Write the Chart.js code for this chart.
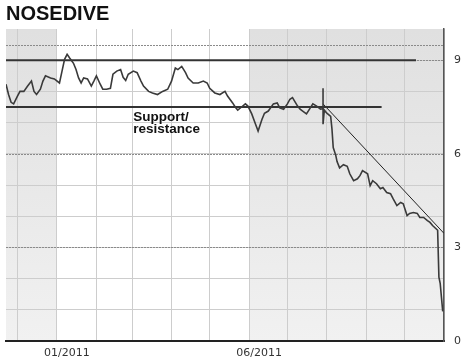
<!DOCTYPE html>
<html>
<head>
<meta charset="utf-8">
<script src="https://cdn.jsdelivr.net/npm/chart.js@4.4.0/dist/chart.umd.min.js"></script>
<style>
  html, body { margin: 0; padding: 0; background: #fff; }
  #wrap { width: 470px; height: 363px; }
</style>
</head>
<body>
<div id="wrap"><canvas id="nosediveChart"></canvas></div>
<script>
// x values are days counted from 01/01/2011
const priceDays = [
  -40, -38, -36, -34, -31, -29, -26, -23, -20, -18, -16, -13, -11, -9, -5, -2,
  2, 4, 6, 8, 10, 13, 15, 17, 19, 21, 24, 27, 29, 31, 34, 36,
  39, 42, 44, 47, 50, 52, 54, 56, 60, 63, 66, 68, 72, 75, 79, 83,
  87, 90, 93, 95, 98, 101, 103, 107, 111, 115, 118, 120, 124, 128, 132, 134,
  138, 140, 142, 145, 148, 150, 153, 156, 158, 161, 163, 166, 170, 173, 175, 178,
  181, 183, 185, 189, 191, 193, 196, 199, 201, 204, 207, 209, 209, 209, 210, 212,
  215, 216, 217, 219, 220, 222, 225, 228, 230, 233, 236, 238, 240, 244, 246, 248,
  251, 254, 256, 259, 262, 264, 267, 270, 272, 275, 277, 280, 283, 285, 288, 291,
  293, 295, 299, 300, 301, 302, 303
];
const priceValues = [
  8.23, 7.9, 7.65, 7.6, 7.85, 8.0, 8.0, 8.17, 8.33, 8.0, 7.9, 8.07, 8.33, 8.5, 8.43, 8.4,
  8.27, 8.65, 9.03, 9.19, 9.07, 8.9, 8.7, 8.43, 8.27, 8.43, 8.4, 8.17, 8.33, 8.5, 8.23, 8.07,
  8.07, 8.1, 8.55, 8.65, 8.7, 8.45, 8.35, 8.55, 8.65, 8.6, 8.33, 8.17, 8.0, 7.95, 7.9, 8.0,
  8.07, 8.33, 8.75, 8.7, 8.8, 8.6, 8.43, 8.27, 8.27, 8.33, 8.27, 8.1, 7.95, 7.9, 8.0, 7.85,
  7.63, 7.5, 7.4, 7.5, 7.6, 7.53, 7.28, 6.95, 6.73, 7.1, 7.3, 7.37, 7.6, 7.63, 7.47, 7.43,
  7.6, 7.75, 7.8, 7.53, 7.43, 7.37, 7.28, 7.47, 7.6, 7.53, 7.43, 7.45, 8.1, 6.95, 7.4, 7.3,
  7.2, 6.8, 6.2, 5.95, 5.75, 5.55, 5.65, 5.6, 5.36, 5.14, 5.2, 5.3, 5.46, 5.36, 4.98, 5.14,
  5.04, 4.88, 4.92, 4.76, 4.72, 4.56, 4.34, 4.44, 4.4, 4.02, 4.09, 4.12, 4.09, 3.96, 3.96, 3.86,
  3.8, 3.7, 3.55, 2.05, 1.85, 1.4, 0.95
];

// drawn-in lines
const resistanceDays = [-40, 282];
const resistanceValues = [9, 9];
const supportDays = [-40, 255];
const supportValues = [7.5, 7.5];
const trendDays = [209, 304];
const trendValues = [7.6, 3.45];

// axes
const monthStarts = [-31, 0, 31, 59, 90, 120, 151, 181, 212, 243, 273, 304];
const monthLabels = { 0: "01/2011", 151: "06/2011" };
const yGridValues = [0, 1, 2, 3, 4, 5, 6, 7, 8, 9, 10];
const yTickLabels = [0, 3, 6, 9];
const dashedLevels = [3, 6, 9, 9.5];
const shadedRanges = [[-40, 0], [151, 304]];
const noteLines = ["Support/", "resistance"];

function toPoints(xs, ys) {
  return xs.map((x, i) => ({ x: x, y: ys[i] }));
}

// light grey half-year bands + dashed levels + the note
const decorPlugin = {
  id: "decor",
  beforeDraw(chart) {
    const { ctx, chartArea, scales } = chart;
    ctx.save();
    const grad = ctx.createLinearGradient(0, chartArea.top, 0, chartArea.bottom);
    grad.addColorStop(0, "#e0e0e0");
    grad.addColorStop(1, "#f1f1f1");
    ctx.fillStyle = grad;
    shadedRanges.forEach(r => {
      const x1 = scales.x.getPixelForValue(r[0]);
      const x2 = scales.x.getPixelForValue(r[1]);
      ctx.fillRect(x1, chartArea.top, x2 - x1, chartArea.bottom - chartArea.top);
    });
    ctx.restore();
  },
  beforeDatasetsDraw(chart) {
    const { ctx, chartArea, scales } = chart;
    ctx.save();
    ctx.strokeStyle = "#8a8a8a";
    ctx.lineWidth = 1;
    ctx.setLineDash([2, 1]);
    dashedLevels.forEach(v => {
      const y = Math.round(scales.y.getPixelForValue(v)) + 0.5;
      ctx.beginPath();
      ctx.moveTo(chartArea.left, y);
      ctx.lineTo(chartArea.right, y);
      ctx.stroke();
    });
    ctx.restore();
  },
  afterDatasetsDraw(chart) {
    const { ctx, scales } = chart;
    const x = scales.x.getPixelForValue(60);
    const y = scales.y.getPixelForValue(7.5) + 4;
    ctx.save();
    ctx.fillStyle = "#111";
    ctx.font = "bold 13.5px 'Liberation Sans', Arial, sans-serif";
    ctx.textBaseline = "top";
    noteLines.forEach((t, i) => ctx.fillText(t, x, y + i * 12));
    ctx.restore();
  }
};

const chartCtx = document.getElementById("nosediveChart").getContext("2d");

const nosediveChart = new Chart(chartCtx, {
  type: "line",
  data: {
    datasets: [
      {
        label: "Share price",
        data: toPoints(priceDays, priceValues),
        borderColor: "#3a3a3a",
        borderWidth: 1.6,
        pointRadius: 0,
        tension: 0
      },
      {
        label: "Resistance",
        data: toPoints(resistanceDays, resistanceValues),
        borderColor: "#333",
        borderWidth: 2,
        pointRadius: 0
      },
      {
        label: "Support",
        data: toPoints(supportDays, supportValues),
        borderColor: "#333",
        borderWidth: 2,
        pointRadius: 0
      },
      {
        label: "Trend",
        data: toPoints(trendDays, trendValues),
        borderColor: "#222",
        borderWidth: 1,
        pointRadius: 0
      }
    ]
  },
  options: {
    responsive: true,
    maintainAspectRatio: false,
    animation: false,
    layout: { padding: { left: 6, right: 0, top: 0, bottom: 0 } },
    plugins: {
      legend: { display: false },
      tooltip: { enabled: false },
      title: {
        display: true,
        text: "NOSEDIVE",
        align: "start",
        color: "#111",
        font: { family: "'Liberation Sans', Arial, sans-serif", size: 20, weight: "bold" },
        padding: { top: 2, bottom: 3 }
      }
    },
    scales: {
      x: {
        type: "linear",
        min: -40,
        max: 304,
        afterBuildTicks: scale => { scale.ticks = monthStarts.map(v => ({ value: v })); },
        afterFit: scale => { scale.height = 22; },
        ticks: {
          autoSkip: false,
          maxRotation: 0,
          labelOffset: 10,
          padding: 6,
          color: "#333",
          font: { family: "'DejaVu Sans', sans-serif", size: 11 },
          callback: v => monthLabels[v] || ""
        },
        grid: { color: "#cdcdcd", lineWidth: 1, drawTicks: false },
        border: { display: true, color: "#222", width: 2 }
      },
      y: {
        position: "right",
        min: 0,
        max: 10,
        afterBuildTicks: scale => { scale.ticks = yGridValues.map(v => ({ value: v })); },
        afterFit: scale => { scale.width = 26; },
        ticks: {
          autoSkip: false,
          padding: 10,
          color: "#333",
          font: { family: "'DejaVu Sans', sans-serif", size: 11 },
          callback: v => (yTickLabels.includes(v) ? String(v) : "")
        },
        grid: {
          color: c => (c.tick && (c.tick.value === 0 || c.tick.value === 10)) ? "rgba(0,0,0,0)" : "#cdcdcd",
          lineWidth: 1,
          drawTicks: false
        },
        border: { display: true, color: "#555", width: 1.5 }
      }
    }
  },
  plugins: [decorPlugin]
});
</script>
</body>
</html>
